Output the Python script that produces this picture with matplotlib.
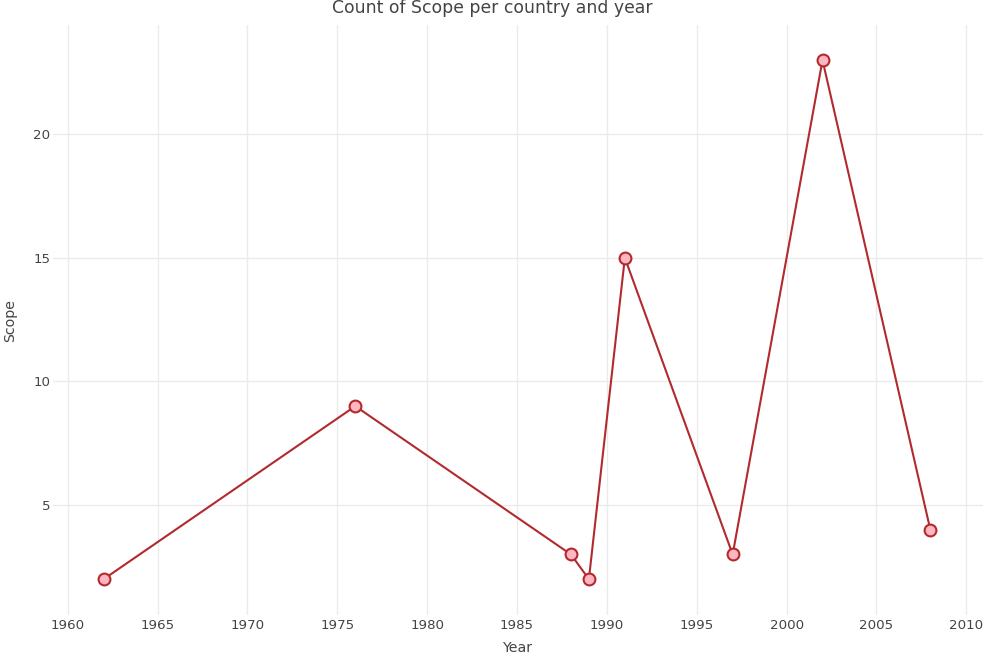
import matplotlib
matplotlib.use("Agg")
import matplotlib.pyplot as plt

# data
years = [1962, 1976, 1988, 1989, 1991, 1997, 2002, 2008]
scope = [2, 9, 3, 2, 15, 3, 23, 4]

xticks = [1960, 1965, 1970, 1975, 1980, 1985, 1990, 1995, 2000, 2005, 2010]
yticks = [5, 10, 15, 20]

plt.rcParams['font.family'] = ['DejaVu Sans']

fig = plt.figure(figsize=(9.93, 6.56), dpi=100)
ax = fig.add_axes([53/993, 1 - 615/656, (983 - 53)/993, (615 - 25)/656])

ax.plot(years, scope, color='#b22a2e', linewidth=1.5, marker='o',
        markersize=8.5, markerfacecolor='#ffb6c1', markeredgecolor='#b22a2e',
        markeredgewidth=1.5, zorder=3)

ax.set_xlim(1959.18, 2010.93)
ax.set_ylim(0.55, 24.42)
ax.set_xticks(xticks)
ax.set_yticks(yticks)

ax.grid(True, color='#ebebeb', linewidth=1)
ax.set_axisbelow(True)
for s in ax.spines.values():
    s.set_visible(False)
ax.tick_params(length=0, labelsize=9.6, labelcolor='#444444')
ax.tick_params(axis='x', pad=3)
ax.tick_params(axis='y', pad=2)

fig.text(517/993, 1 - 648/656, 'Year', ha='center', va='center',
         fontsize=10.2, color='#444444')
fig.text(10/993, 1 - 320/656, 'Scope', ha='center', va='center',
         fontsize=10.2, color='#444444', rotation=90)
fig.text(492/993, 1 - 8/656, 'Count of Scope per country and year',
         ha='center', va='center', fontsize=12.4, color='#444444')

fig.savefig('out.png', dpi=100)
